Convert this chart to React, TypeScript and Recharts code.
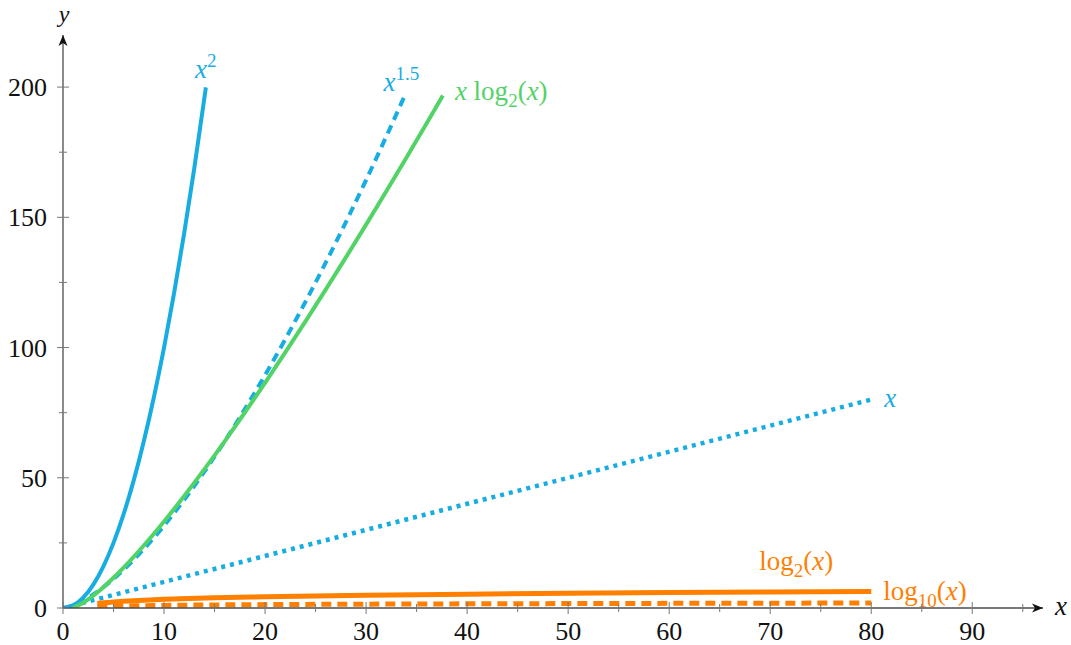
import { LineChart, Line, XAxis, YAxis, ReferenceDot } from "recharts";

const BLUE = "#17ADE2";
const GREEN = "#52D366";
const ORANGE = "#FF8000";
const AXIS = "#4d4d4d";
const TICK = "#777";
const FONT = "'Liberation Serif', 'DejaVu Serif', serif";

// x^2
const squareX = [0, 1, 2, 3, 4, 5, 6, 7, 8, 9, 10, 11, 12, 13, 14, 14.14];
const squareY = [0, 1, 4, 9, 16, 25, 36, 49, 64, 81, 100, 121, 144, 169, 196, 199.9];

// x^1.5
const powX = [0, 1, 2, 3, 4, 5, 6, 8, 10, 12, 14, 16, 18, 20, 22, 24, 26, 28, 30, 32, 33.8];
const powY = [0, 1, 2.83, 5.2, 8, 11.18, 14.7, 22.63, 31.62, 41.57, 52.38, 64, 76.37, 89.44, 103.19, 117.58, 132.57, 148.16, 164.32, 181.02, 196.5];

// x log2(x)
const xlogX = [1, 2, 3, 4, 5, 6, 8, 10, 12, 14, 16, 18, 20, 22, 24, 26, 28, 30, 32, 34, 36, 37.6];
const xlogY = [0, 2, 4.75, 8, 11.61, 15.51, 24, 33.22, 43.02, 53.3, 64, 75.06, 86.44, 98.11, 110.04, 122.21, 134.61, 147.21, 160, 172.97, 186.12, 196.8];

// x
const linX = [1, 80];
const linY = [1, 80];

// log2(x), log10(x)
const logX = [3.4, 4, 5, 6, 8, 10, 15, 20, 30, 40, 50, 60, 70, 80];
const log2Y = [1.77, 2, 2.32, 2.58, 3, 3.32, 3.91, 4.32, 4.91, 5.32, 5.64, 5.91, 6.13, 6.32];
const log10Y = [0.53, 0.6, 0.7, 0.78, 0.9, 1, 1.18, 1.3, 1.48, 1.6, 1.7, 1.78, 1.85, 1.9];

const xTicks = [0, 5, 10, 15, 20, 25, 30, 35, 40, 45, 50, 55, 60, 65, 70, 75, 80, 85, 90, 95];
const yTicks = [0, 25, 50, 75, 100, 125, 150, 175, 200];

const pts = (xs: number[], ys: number[]) => xs.map((x, i) => ({ x, y: ys[i] }));

function XTick({ x, y, payload }: any) {
  const v = payload.value;
  const major = v % 10 === 0;
  const h = major ? 6 : 4;
  return (
    <g>
      <line x1={x} x2={x} y1={y - h} y2={y + h} stroke={TICK} strokeWidth={1} />
      {major && (
        <text x={x} y={y + 32} textAnchor="middle" fontFamily={FONT} fontSize={26} fill="#111">
          {v}
        </text>
      )}
    </g>
  );
}

function YTick({ x, y, payload }: any) {
  const v = payload.value;
  const major = v % 50 === 0;
  const h = major ? 6 : 4;
  return (
    <g>
      <line x1={x - h} x2={x + h} y1={y} y2={y} stroke={TICK} strokeWidth={1} />
      {major && (
        <text x={x - 16} y={y + 9} textAnchor="end" fontFamily={FONT} fontSize={26} fill="#111">
          {v}
        </text>
      )}
    </g>
  );
}

const txt = { fontFamily: FONT, fontSize: 27 };

export default function App() {
  return (
    <div style={{ position: "absolute", left: 0, top: 0, background: "#fff" }}>
      <LineChart width={1071} height={645} margin={{ top: 35, right: 28, bottom: 0, left: 0 }}>
        <XAxis
          dataKey="x"
          type="number"
          domain={[0, 97]}
          ticks={xTicks}
          interval={0}
          tickSize={0}
          tickMargin={0}
          height={37}
          tick={<XTick />}
          axisLine={{ stroke: AXIS, strokeWidth: 1.3 }}
          tickLine={false}
          allowDataOverflow
        />
        <YAxis
          dataKey="y"
          type="number"
          domain={[0, 220]}
          ticks={yTicks}
          interval={0}
          tickSize={0}
          tickMargin={0}
          width={63}
          tick={<YTick />}
          axisLine={{ stroke: AXIS, strokeWidth: 1.3 }}
          tickLine={false}
          allowDataOverflow
        />
        <Line data={pts(squareX, squareY)} dataKey="y" type="monotone" stroke={BLUE} strokeWidth={4} dot={false} activeDot={false} isAnimationActive={false} />
        <Line data={pts(powX, powY)} dataKey="y" type="monotone" stroke={BLUE} strokeWidth={4} strokeDasharray="9 6" dot={false} activeDot={false} isAnimationActive={false} />
        <Line data={pts(linX, linY)} dataKey="y" type="linear" stroke={BLUE} strokeWidth={4.5} strokeDasharray="4 5" dot={false} activeDot={false} isAnimationActive={false} />
        <Line data={pts(xlogX, xlogY)} dataKey="y" type="monotone" stroke={GREEN} strokeWidth={4} dot={false} activeDot={false} isAnimationActive={false} />
        <Line data={pts(logX, log2Y)} dataKey="y" type="monotone" stroke={ORANGE} strokeWidth={5} dot={false} activeDot={false} isAnimationActive={false} />
        <Line data={pts(logX, log10Y)} dataKey="y" type="monotone" stroke={ORANGE} strokeWidth={5} strokeDasharray="10 6" dot={false} activeDot={false} isAnimationActive={false} />

        {/* axis arrows and labels */}
        <ReferenceDot x={97} y={0} r={0} ifOverflow="visible" shape={(p: any) => (
          <g>
            <path d={`M${p.cx},${p.cy} L${p.cx - 11},${p.cy - 4.5} L${p.cx - 8},${p.cy} L${p.cx - 11},${p.cy + 4.5} Z`} fill="#111" />
            <text x={p.cx + 12} y={p.cy + 7} {...txt} fontStyle="italic" fill="#111">x</text>
          </g>
        )} />
        <ReferenceDot x={0} y={220} r={0} ifOverflow="visible" shape={(p: any) => (
          <g>
            <path d={`M${p.cx},${p.cy} L${p.cx - 4.5},${p.cy + 11} L${p.cx},${p.cy + 8} L${p.cx + 4.5},${p.cy + 11} Z`} fill="#111" />
            <text x={p.cx + 1} y={p.cy - 13} {...txt} fontSize={24} fontStyle="italic" textAnchor="middle" fill="#111">y</text>
          </g>
        )} />

        {/* series labels */}
        <ReferenceDot x={14.14} y={199.9} r={0} ifOverflow="visible" shape={(p: any) => (
          <text x={p.cx} y={p.cy - 9} {...txt} textAnchor="middle" fill={BLUE}>
            <tspan fontStyle="italic">x</tspan>
            <tspan dy={-11} fontSize={19}>2</tspan>
          </text>
        )} />
        <ReferenceDot x={33.8} y={196.5} r={0} ifOverflow="visible" shape={(p: any) => (
          <text x={p.cx - 3} y={p.cy - 5} {...txt} textAnchor="middle" fill={BLUE}>
            <tspan fontStyle="italic">x</tspan>
            <tspan dy={-11} fontSize={19}>1.5</tspan>
          </text>
        )} />
        <ReferenceDot x={37.6} y={196.8} r={0} ifOverflow="visible" shape={(p: any) => (
          <text x={p.cx + 12} y={p.cy + 5} {...txt} fill={GREEN}>
            <tspan fontStyle="italic">x</tspan>
            <tspan> log</tspan>
            <tspan dy={7} fontSize={19}>2</tspan>
            <tspan dy={-7}>(</tspan>
            <tspan fontStyle="italic">x</tspan>
            <tspan>)</tspan>
          </text>
        )} />
        <ReferenceDot x={80} y={80} r={0} ifOverflow="visible" shape={(p: any) => (
          <text x={p.cx + 13} y={p.cy + 7} {...txt} fontStyle="italic" fill={BLUE}>x</text>
        )} />
        <ReferenceDot x={80} y={6.32} r={0} ifOverflow="visible" shape={(p: any) => (
          <text x={p.cx - 38} y={p.cy - 22} {...txt} textAnchor="end" fill={ORANGE}>
            <tspan>log</tspan>
            <tspan dy={7} fontSize={19}>2</tspan>
            <tspan dy={-7}>(</tspan>
            <tspan fontStyle="italic">x</tspan>
            <tspan>)</tspan>
          </text>
        )} />
        <ReferenceDot x={80} y={1.9} r={0} ifOverflow="visible" shape={(p: any) => (
          <text x={p.cx + 12} y={p.cy - 3} {...txt} fill={ORANGE}>
            <tspan>log</tspan>
            <tspan dy={7} fontSize={19}>10</tspan>
            <tspan dy={-7}>(</tspan>
            <tspan fontStyle="italic">x</tspan>
            <tspan>)</tspan>
          </text>
        )} />
      </LineChart>
    </div>
  );
}
